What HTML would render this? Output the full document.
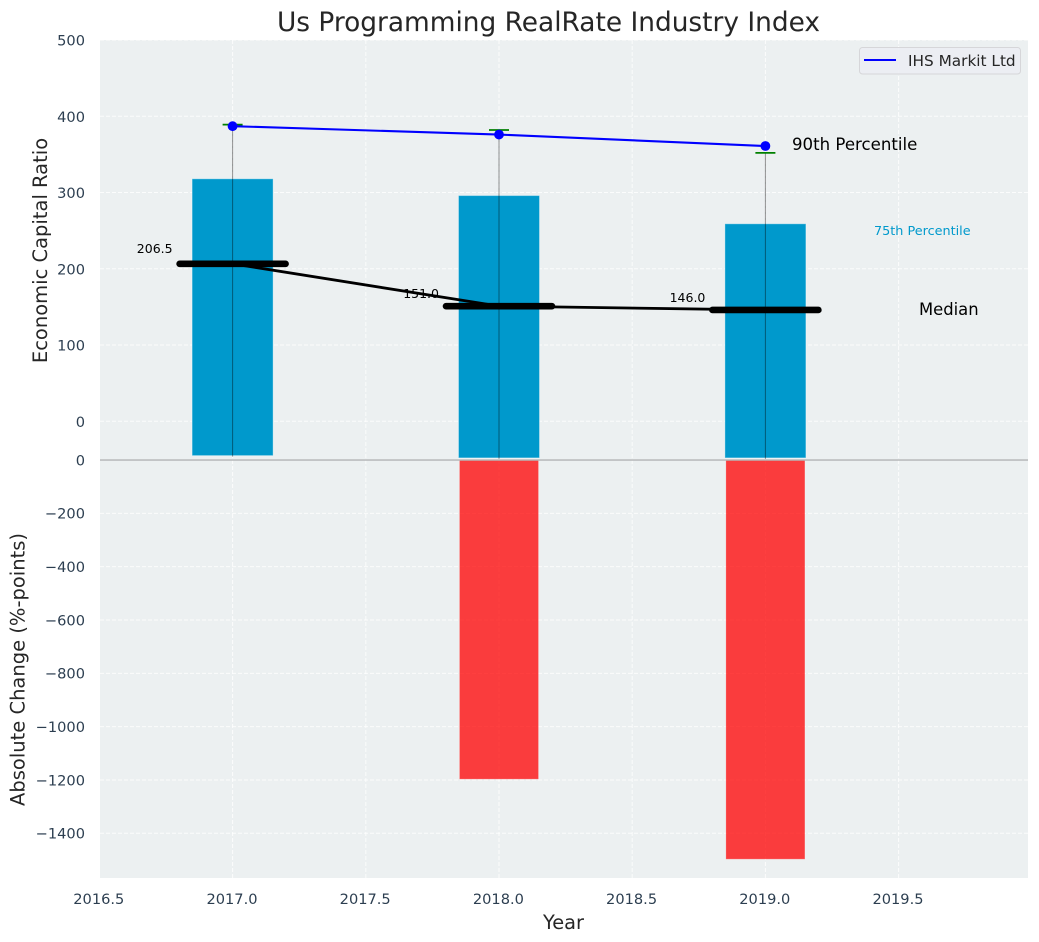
<!DOCTYPE html>
<html>
<head>
<meta charset="utf-8">
<title>Us Programming RealRate Industry Index</title>
<style>
html,body{margin:0;padding:0;background:#fff;width:1039px;height:942px;overflow:hidden}
svg{display:block;font-family:"DejaVu Sans","Liberation Sans",sans-serif}
</style>
</head>
<body>
<svg id="chart" xmlns="http://www.w3.org/2000/svg" width="1039" height="942" viewBox="0 0 1039 942"></svg>
<script>
const years = [2017, 2018, 2019];
const p90 = [387, 376, 361];
const p90Cap = [389, 382, 352];
const p75 = [318, 296, 259];
const p25 = [-45, -48, -48];
const medians = [206.5, 151, 146];
const medianLabels = ['206.5', '151.0', '146.0'];
const changes = [0, -1197, -1497];
const xTicks = [2016.5, 2017, 2017.5, 2018, 2018.5, 2019, 2019.5];
const xTickLabels = ['2016.5', '2017.0', '2017.5', '2018.0', '2018.5', '2019.0', '2019.5'];
const topTicks = [0, 100, 200, 300, 400, 500];
const topTickLabels = ['0', '100', '200', '300', '400', '500'];
const bottomTicks = [0, -200, -400, -600, -800, -1000, -1200, -1400];
const bottomTickLabels = ['0', '\u2212200', '\u2212400', '\u2212600', '\u2212800', '\u22121000', '\u22121200', '\u22121400'];

const svg = document.getElementById('chart');
const NS = 'http://www.w3.org/2000/svg';
function X(v) { return 232.6 + (v - 2017) * 266.4; }
function YT(v) { return 421.3 - v * 0.7626; }
function YB(v) { return 460 - v * 0.26665; }
const L = 100, R = 1028, T = 40, M = 459, B = 878;
const tickColor = '#2c3e50';

function make(tag, props, text) {
  const e = document.createElementNS(NS, tag);
  for (const k in props) e.setAttribute(k, props[k]);
  if (text !== undefined) e.textContent = text;
  svg.appendChild(e);
  return e;
}
let el;

el = make('rect', {x: L, y: T, width: R - L, height: M - T, fill: '#ecf0f1'});


el = make('rect', {x: L, y: 460, width: R - L, height: B - 460, fill: '#ecf0f1'});



const gridStyle = {stroke: '#ffffff', 'stroke-width': 1, 'stroke-dasharray': '4 2', 'stroke-opacity': 0.8, fill: 'none'};

xTicks.forEach(function (t, i) {
  if (X(t) < L) return;
  el = make('line', Object.assign({x1: X(t), x2: X(t), y1: T, y2: M}, gridStyle));
  
  
  el = make('line', Object.assign({x1: X(t), x2: X(t), y1: 460, y2: B}, gridStyle));
  
  
});
topTicks.forEach(function (t) {
  el = make('line', Object.assign({x1: L, x2: R, y1: YT(t), y2: YT(t)}, gridStyle));
  
  
});
bottomTicks.forEach(function (t) {
  if (t === 0) return;
  el = make('line', Object.assign({x1: L, x2: R, y1: YB(t), y2: YB(t)}, gridStyle));
  
  
});

years.forEach(function (y, i) {
  el = make('rect', {x: X(y) - 40.5, y: YT(p75[i]), width: 81, height: YT(p25[i]) - YT(p75[i]), fill: '#0099cc', stroke: '#ffffff', 'stroke-opacity': 0.35, 'stroke-width': 1});
  
  
  if (changes[i] !== 0) {
    el = make('rect', {x: X(y) - 39.5, y: 460, width: 79, height: YB(changes[i]) - 460, fill: '#ff0000', 'fill-opacity': 0.75, stroke: '#ffffff', 'stroke-opacity': 0.2, 'stroke-width': 1});
    
    
  }
  el = make('line', {x1: X(y), x2: X(y), y1: YT(p90Cap[i]), y2: YT(p25[i]) + 1, stroke: '#000000', 'stroke-opacity': 0.42, 'stroke-width': 1});
  
  
  el = make('line', {x1: X(y) - 10, x2: X(y) + 10, y1: YT(p90Cap[i]), y2: YT(p90Cap[i]), stroke: '#008000', 'stroke-width': 1.8});
  
  
});

el = make('line', {x1: L, x2: R, y1: 460, y2: 460, stroke: '#b4b6b7', 'stroke-width': 1.4});



years.forEach(function (y, i) {
  el = make('text', {x: X(y) - 60, y: YT(medians[i] * 1.07), 'text-anchor': 'end', 'font-size': 12.5, fill: '#000'}, medianLabels[i]);
  
  
});

el = make('polyline', {points: years.map(function (y, i) { return X(y) + ',' + YT(medians[i]); }).join(' '), fill: 'none', stroke: '#000', 'stroke-width': 2.8});



years.forEach(function (y, i) {
  el = make('line', {x1: X(y) - 53, x2: X(y) + 53, y1: YT(medians[i]), y2: YT(medians[i]), stroke: '#000', 'stroke-width': 6.6, 'stroke-linecap': 'round'});
  
  
});

el = make('polyline', {points: years.map(function (y, i) { return X(y) + ',' + YT(p90[i]); }).join(' '), fill: 'none', stroke: '#0000ff', 'stroke-width': 2.1});


years.forEach(function (y, i) {
  el = make('circle', {cx: X(y), cy: YT(p90[i]), r: 4.9, fill: '#0000ff'});
  
  
});

xTicks.forEach(function (t, i) {
  el = make('text', {x: X(t) - 0.6, y: 904, 'text-anchor': 'middle', 'font-size': 14.6, fill: tickColor}, xTickLabels[i]);
  
  
});
topTicks.forEach(function (t, i) {
  el = make('text', {x: 85, y: YT(t) + 5.6, 'text-anchor': 'end', 'font-size': 14.6, fill: tickColor}, topTickLabels[i]);
  
  
});
bottomTicks.forEach(function (t, i) {
  el = make('text', {x: 85, y: YB(t) + 5.4, 'text-anchor': 'end', 'font-size': 14.6, fill: tickColor}, bottomTickLabels[i]);
  
  
});
</script>
<svg xmlns="http://www.w3.org/2000/svg" width="1039" height="942" viewBox="0 0 1039 942" style="position:absolute;left:0;top:0;pointer-events:none">
  <text x="548.5" y="31" text-anchor="middle" font-size="26.4" fill="#262626">Us Programming RealRate Industry Index</text>
  <text x="47" y="250.5" text-anchor="middle" font-size="19.5" fill="#262626" transform="rotate(-90 47 250.5)">Economic Capital Ratio</text>
  <text x="24.5" y="669.5" text-anchor="middle" font-size="19.5" fill="#262626" transform="rotate(-90 24.5 669.5)">Absolute Change (%-points)</text>
  <text x="563.5" y="929" text-anchor="middle" font-size="19.4" fill="#262626">Year</text>
  <text x="792" y="150" font-size="16.6" fill="#000">90th Percentile</text>
  <text x="874" y="235" font-size="12.8" fill="#0099cc">75th Percentile</text>
  <text x="919" y="315" font-size="16.4" fill="#000">Median</text>
  <g>
    <rect x="859.5" y="47.5" width="161" height="26.5" rx="3" fill="#ecedf3" fill-opacity="0.9" stroke="#d6d6d9" stroke-width="1"/>
    <line x1="864" x2="896" y1="60" y2="60" stroke="#0000ff" stroke-width="2"/>
    <text x="908" y="66" font-size="15.3" fill="#262626">IHS Markit Ltd</text>
  </g>
</svg>
</body>
</html>
